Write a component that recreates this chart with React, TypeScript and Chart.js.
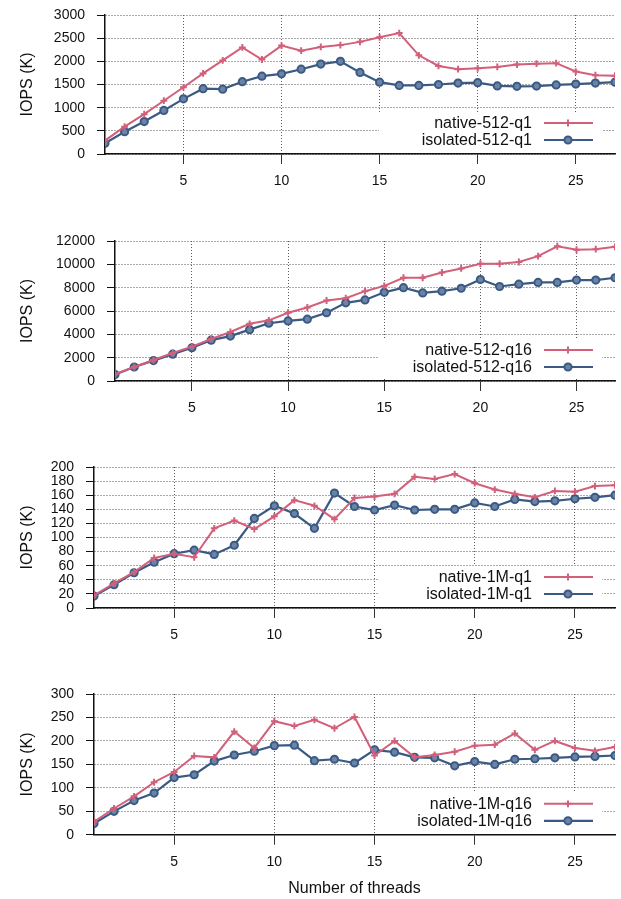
import React, { useEffect, useRef } from "react";
import { Chart, registerables } from "chart.js";

Chart.register(...registerables);

const threads = [1, 2, 3, 4, 5, 6, 7, 8, 9, 10, 11, 12, 13, 14, 15, 16, 17, 18, 19, 20, 21, 22, 23, 24, 25, 26, 27];
const xTickValues = [5, 10, 15, 20, 25];

const native512q1 = [290, 590, 860, 1150, 1440, 1740, 2020, 2300, 2040, 2340, 2230, 2310, 2350, 2420, 2520, 2610, 2130, 1900, 1830, 1850, 1880, 1930, 1950, 1960, 1780, 1700, 1690];
const isolated512q1 = [230, 480, 700, 940, 1190, 1410, 1400, 1560, 1680, 1730, 1830, 1940, 2000, 1760, 1550, 1480, 1480, 1500, 1530, 1540, 1470, 1460, 1465, 1490, 1510, 1530, 1550];

const native512q16 = [600, 1200, 1800, 2400, 2950, 3600, 4200, 4900, 5200, 5850, 6300, 6900, 7100, 7700, 8150, 8850, 8850, 9300, 9650, 10050, 10050, 10200, 10700, 11550, 11250, 11300, 11500];
const isolated512q16 = [550, 1200, 1750, 2300, 2850, 3500, 3850, 4400, 4950, 5150, 5300, 5850, 6700, 6950, 7600, 8000, 7550, 7700, 7950, 8700, 8100, 8300, 8450, 8450, 8650, 8650, 8850];

const native1Mq1 = [18, 35, 51, 71, 77, 72, 113, 124, 112, 130, 153, 145, 126, 156, 158, 162, 186, 183, 190, 177, 168, 162, 157, 166, 165, 173, 174];
const isolated1Mq1 = [17, 33, 50, 65, 77, 82, 76, 89, 127, 145, 134, 113, 163, 144, 139, 146, 139, 140, 140, 149, 144, 154, 151, 152, 155, 157, 160];

const native1Mq16 = [28, 56, 82, 112, 134, 168, 165, 220, 185, 242, 232, 245, 227, 251, 169, 200, 165, 170, 177, 190, 192, 216, 181, 200, 185, 179, 187];
const isolated1Mq16 = [24, 50, 73, 89, 122, 128, 157, 170, 178, 190, 191, 158, 161, 153, 181, 176, 165, 164, 147, 156, 150, 161, 162, 164, 166, 167, 169];

const yMaxes = [3000, 12000, 200, 300];
const ySteps = [500, 2000, 20, 50];
const nativeLabels = ["native-512-q1", "native-512-q16", "native-1M-q1", "native-1M-q16"];
const isolatedLabels = ["isolated-512-q1", "isolated-512-q16", "isolated-1M-q1", "isolated-1M-q16"];
const nativeSeries = [native512q1, native512q16, native1Mq1, native1Mq16];
const isolatedSeries = [isolated512q1, isolated512q16, isolated1Mq1, isolated1Mq16];

const yAxisTitle = "IOPS (K)";
const xAxisTitle = "Number of threads";

const RED = "#d2607a";
const BLUE = "#3a5a84";
const BLUE_FILL = "#6b84a6";
const FONT = '"Liberation Sans", Arial, Helvetica, sans-serif';

// layout of the four panels
const PAD_TOP = 21;
const PAD_RIGHT = 2;
const X_AXIS_H = 10 + 16.8 + 2 * 8.6;
const X_TITLE_H = 19.2;
const areaTops = [15, 241, 467, 694];
const areaBottoms = [154, 381, 608, 835];
const axisLefts = [105, 115, 94, 94];

const legendPlugin = {
  id: "insideLegend",
  beforeDatasetsDraw(chart: any) {
    const { ctx, chartArea } = chart;
    const b = chartArea.bottom;
    const r = chartArea.right;
    ctx.save();
    ctx.fillStyle = "#ffffff";
    ctx.fillRect(r - 236, b - 42, 223, 40);
    chart.data.datasets.forEach((ds: any, i: number) => {
      const y = b - 31 + i * 17;
      ctx.font = "16px " + FONT;
      ctx.fillStyle = "#111";
      ctx.textAlign = "right";
      ctx.textBaseline = "middle";
      ctx.fillText(ds.label, r - 83, y + 1);
      ctx.strokeStyle = ds.borderColor;
      ctx.lineWidth = ds.borderWidth;
      ctx.beginPath();
      ctx.moveTo(r - 71, y);
      ctx.lineTo(r - 22, y);
      ctx.stroke();
      const cx = r - 47;
      if (ds.pointStyle === "circle") {
        ctx.beginPath();
        ctx.arc(cx, y, ds.pointRadius, 0, Math.PI * 2);
        ctx.fillStyle = ds.pointBackgroundColor;
        ctx.fill();
        ctx.lineWidth = ds.pointBorderWidth;
        ctx.strokeStyle = ds.pointBorderColor;
        ctx.stroke();
      } else {
        ctx.lineWidth = ds.pointBorderWidth;
        ctx.strokeStyle = ds.pointBorderColor;
        ctx.beginPath();
        ctx.moveTo(cx - ds.pointRadius, y);
        ctx.lineTo(cx + ds.pointRadius, y);
        ctx.moveTo(cx, y - ds.pointRadius);
        ctx.lineTo(cx, y + ds.pointRadius);
        ctx.stroke();
      }
    });
    ctx.restore();
  },
};

function Panel({ idx }: { idx: number }) {
  const ref = useRef<HTMLCanvasElement>(null);
  const isLast = idx === 3;
  const top = areaTops[idx] - PAD_TOP;
  const height = Math.round(PAD_TOP + (areaBottoms[idx] - areaTops[idx]) + X_AXIS_H + (isLast ? X_TITLE_H : 0));

  useEffect(() => {
    if (!ref.current) return;
    const chart = new Chart(ref.current, {
      type: "line",
      data: {
        datasets: [
          {
            label: nativeLabels[idx],
            data: threads.map((t, i) => ({ x: t, y: nativeSeries[idx][i] })),
            borderColor: RED,
            backgroundColor: RED,
            borderWidth: 2,
            pointStyle: "cross",
            pointRadius: 3.4,
            pointBorderWidth: 2,
            pointBorderColor: RED,
            pointBackgroundColor: RED,
            tension: 0,
          },
          {
            label: isolatedLabels[idx],
            data: threads.map((t, i) => ({ x: t, y: isolatedSeries[idx][i] })),
            borderColor: BLUE,
            backgroundColor: BLUE,
            borderWidth: 2.2,
            pointStyle: "circle",
            pointRadius: 3.6,
            pointBorderWidth: 2,
            pointBorderColor: BLUE,
            pointBackgroundColor: BLUE_FILL,
            tension: 0,
          },
        ],
      },
      options: {
        animation: false,
        responsive: false,
        devicePixelRatio: 1,
        layout: { padding: { top: PAD_TOP, left: 0, right: PAD_RIGHT, bottom: 0 } },
        plugins: { legend: { display: false }, tooltip: { enabled: false } },
        scales: {
          x: {
            type: "linear",
            min: 1,
            max: 27,
            afterBuildTicks: (scale: any) => {
              scale.ticks = xTickValues.map((v) => ({ value: v }));
            },
            afterFit: (scale: any) => {
              scale.paddingLeft = 0;
              scale.paddingRight = 0;
            },
            ticks: {
              autoSkip: false,
              maxRotation: 0,
              padding: 8.6,
              color: "#111",
              font: { family: FONT, size: 14 },
              callback: (v: any) => String(v),
            },
            grid: {
              color: "#5c5c5c",
              lineWidth: 1,
              tickLength: 10,
              tickColor: "#333",
              tickWidth: 1,
            },
            border: { display: true, color: "#111", width: 1.5, dash: [1, 2] },
            title: {
              display: isLast,
              text: xAxisTitle,
              color: "#111",
              font: { family: FONT, size: 16 },
              padding: { top: 0, bottom: 0 },
            },
          },
          y: {
            type: "linear",
            min: 0,
            max: yMaxes[idx],
            afterFit: (scale: any) => {
              scale.width = axisLefts[idx];
            },
            ticks: {
              stepSize: ySteps[idx],
              autoSkip: false,
              padding: 12,
              color: "#111",
              font: { family: FONT, size: 14 },
              callback: (v: any) => String(v),
            },
            grid: {
              color: "#555555",
              lineWidth: 1,
              tickLength: 8,
              tickColor: "#111",
              tickWidth: 1,
            },
            border: { display: true, color: "#111", width: 1.5, dash: [1, 2] },
            title: {
              display: true,
              text: yAxisTitle,
              color: "#111",
              font: { family: FONT, size: 16 },
              padding: { top: 18, bottom: 4 },
            },
          },
        },
      },
      plugins: [legendPlugin],
    } as any);
    return () => chart.destroy();
  }, [idx]);

  return (
    <canvas
      ref={ref}
      width={621}
      height={height}
      style={{ position: "absolute", left: 0, top, width: 621, height, display: "block" }}
    />
  );
}

export default function App() {
  return (
    <div style={{ position: "absolute", left: 0, top: 0, width: 621, height: 899, background: "#fff", overflow: "hidden" }}>
      {[0, 1, 2, 3].map((i) => (
        <Panel key={i} idx={i} />
      ))}
    </div>
  );
}
